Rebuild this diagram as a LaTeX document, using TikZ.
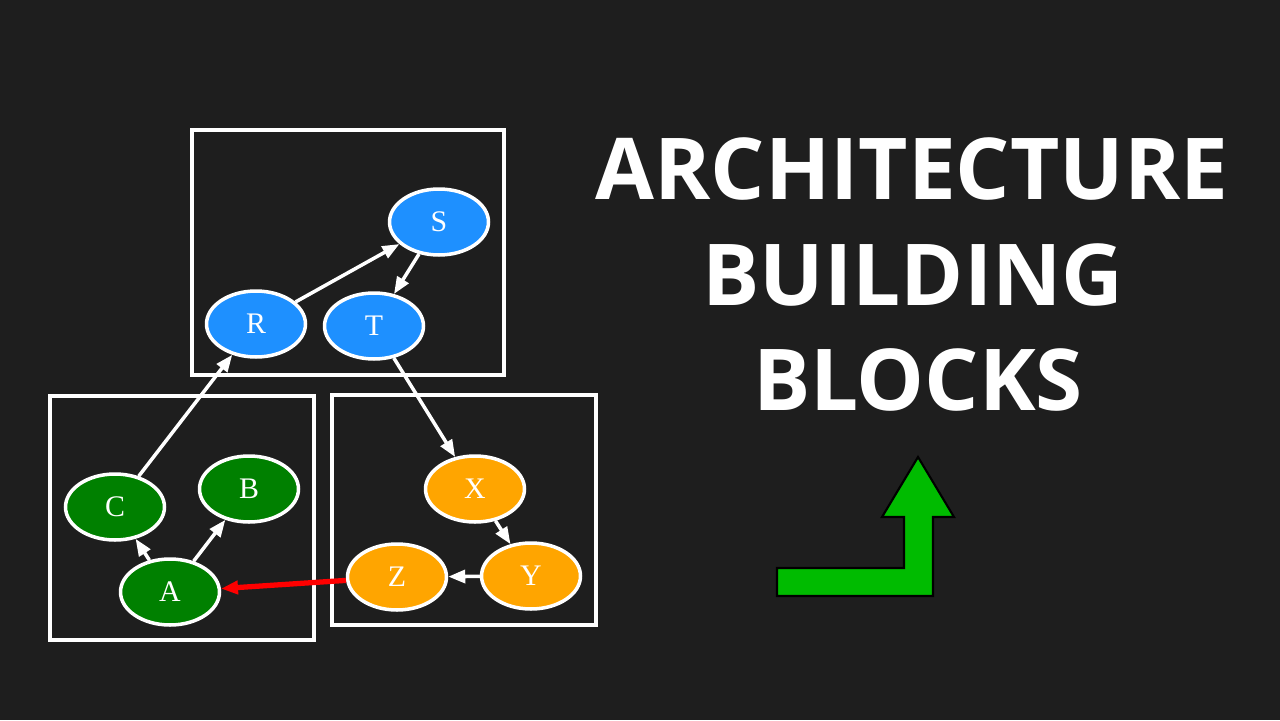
\documentclass[tikz,border=0pt]{standalone}
\usepackage{fontspec}
\setmainfont{Liberation Serif}
\newfontfamily\titlefont{Open Sans}
\usetikzlibrary{shapes.geometric,arrows.meta}
\definecolor{bgcol}{HTML}{1E1E1E}
\definecolor{rstblue}{HTML}{1E90FF}
\definecolor{abcgreen}{HTML}{008000}
\definecolor{xyzorange}{HTML}{FFA500}
\definecolor{turngreen}{HTML}{00BB00}
\begin{document}
\begin{tikzpicture}[x=0.02cm,y=-0.02cm,
    vertex/.style={ellipse,draw=white,line width=2pt,minimum width=1.98cm,
      minimum height=1.32cm,inner sep=0pt,text=white,font=\fontsize{17}{17}\selectfont},
    edge/.style={draw=white,line width=2pt,-{Triangle[length=0.34cm,width=0.26cm]}},
    cluster/.style={draw=white,line width=2pt},
    heading/.style={anchor=base,text=white,font=\titlefont\bfseries\fontsize{48.6}{48}\selectfont}]
    \fill[bgcol] (0,0) rectangle (1280,720);
    \useasboundingbox (0,0) rectangle (1280,720);
    % clusters
    \draw[cluster] (192,130) rectangle (504,375);
    \draw[cluster] (50,396) rectangle (314,640);
    \draw[cluster] (332,395) rectangle (596,625);
    % nodes
    \node[vertex,fill=rstblue] (S) at (439,222) {S};
    \node[vertex,fill=rstblue] (R) at (256,324) {R};
    \node[vertex,fill=rstblue] (T) at (374,326) {T};
    \node[vertex,fill=abcgreen] (C) at (115,507) {C};
    \node[vertex,fill=abcgreen] (B) at (249,489) {B};
    \node[vertex,fill=abcgreen] (A) at (170,592) {A};
    \node[vertex,fill=xyzorange] (X) at (475,489) {X};
    \node[vertex,fill=xyzorange] (Y) at (531,576) {Y};
    \node[vertex,fill=xyzorange] (Z) at (397,577) {Z};
    % edges
    \draw[edge] (R) -- (S);
    \draw[edge] (S) -- (T);
    \draw[edge] (T) -- (X);
    \draw[edge] (C) -- (R);
    \draw[edge] (A) -- (C);
    \draw[edge] (A) -- (B);
    \draw[edge] (X) -- (Y);
    \draw[edge] (Y) -- (Z);
    \draw[edge,draw=red,line width=3pt] (Z) -- (A);
    % title
    \node[heading] (title1) at (912,199) {ARCHITECTURE};
    \node[heading] (title2) at (913,305) {BUILDING};
    \node[heading] (title3) at (918,410) {BLOCKS};
    % turn arrow
    \draw[fill=turngreen,draw=black,line width=1.2pt] (777,568) -- (904,568) -- (904,517)
      -- (882,517) -- (918,457) -- (954,517) -- (933,517) -- (933,596) -- (777,596) -- cycle;
\end{tikzpicture}
\end{document}
